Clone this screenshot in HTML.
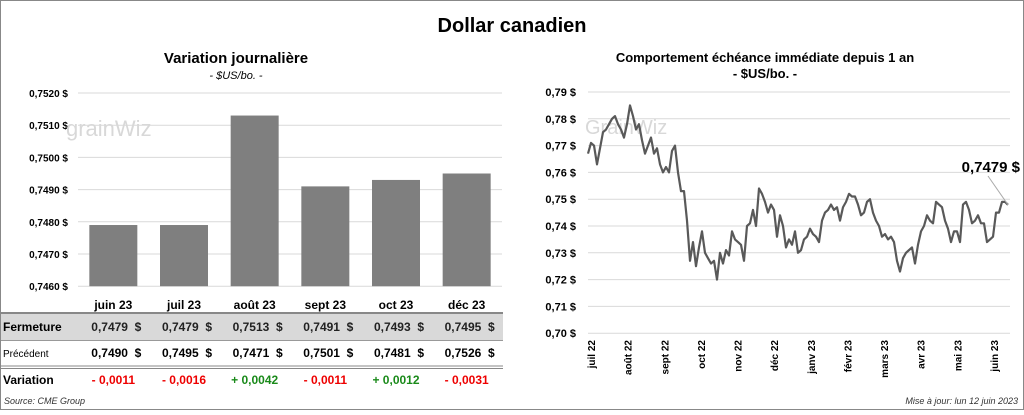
<!DOCTYPE html>
<html><head><meta charset="utf-8"><style>
body{margin:0;width:1024px;height:410px;overflow:hidden;background:#fff;font-family:"Liberation Sans",sans-serif}
svg text{font-family:"Liberation Sans",sans-serif}
</style></head><body>
<svg id="s" width="1024" height="410" xmlns="http://www.w3.org/2000/svg">
<rect x="0.5" y="0.5" width="1023" height="409" fill="#fff" stroke="#888"/>
<text x="512" y="32" text-anchor="middle" font-size="20" font-weight="bold">Dollar canadien</text>
<text x="236" y="63" text-anchor="middle" font-size="15" font-weight="bold">Variation  journalière</text>
<text x="236" y="79" text-anchor="middle" font-size="11" font-style="italic">- $US/bo. -</text>
<text x="765" y="62" text-anchor="middle" font-size="13" font-weight="bold">Comportement échéance immédiate depuis 1 an</text>
<text x="765" y="78" text-anchor="middle" font-size="13" font-weight="bold">- $US/bo. -</text>
<g id="left"></g>
<g id="right"></g>
<g id="tbl"></g>
<text x="4" y="404" font-size="9" font-style="italic" fill="#333">Source: CME Group</text>
<text x="1018" y="404" text-anchor="end" font-size="9" font-style="italic" fill="#333">Mise à jour: lun 12 juin 2023</text>
</svg>
<script>
const months=["juin 23","juil 23","août 23","sept 23","oct 23","déc 23"];
const closes=[0.7479,0.7479,0.7513,0.7491,0.7493,0.7495];
const prevs=[0.7490,0.7495,0.7471,0.7501,0.7481,0.7526];
const variations=[-0.0011,-0.0016,0.0042,-0.0011,0.0012,-0.0031];
const leftTicks=[0.7460,0.7470,0.7480,0.7490,0.7500,0.7510,0.7520];
const lineVals=[0.767,0.771,0.770,0.763,0.769,0.775,0.776,0.778,0.780,0.781,0.778,0.776,0.773,0.778,0.785,0.781,0.776,0.778,0.772,0.767,0.770,0.773,0.767,0.769,0.763,0.760,0.762,0.760,0.768,0.770,0.760,0.753,0.753,0.742,0.727,0.734,0.725,0.732,0.738,0.730,0.728,0.726,0.727,0.720,0.730,0.726,0.731,0.729,0.738,0.735,0.734,0.733,0.727,0.740,0.741,0.746,0.740,0.754,0.752,0.749,0.745,0.748,0.746,0.736,0.744,0.740,0.732,0.735,0.733,0.738,0.730,0.731,0.735,0.736,0.739,0.737,0.736,0.734,0.742,0.745,0.746,0.748,0.746,0.747,0.742,0.747,0.749,0.752,0.751,0.751,0.748,0.744,0.745,0.749,0.750,0.745,0.742,0.740,0.736,0.737,0.735,0.736,0.734,0.727,0.723,0.728,0.730,0.731,0.732,0.726,0.733,0.738,0.740,0.744,0.742,0.741,0.749,0.748,0.747,0.742,0.739,0.734,0.738,0.738,0.734,0.748,0.749,0.746,0.741,0.742,0.744,0.741,0.741,0.734,0.735,0.736,0.745,0.745,0.749,0.749,0.7479];
const rightTicks=[0.70,0.71,0.72,0.73,0.74,0.75,0.76,0.77,0.78,0.79];
const lineMonths=["juil 22","août 22","sept 22","oct 22","nov 22","déc 22","janv 23","févr 23","mars 23","avr 23","mai 23","juin 23"];
const NS="http://www.w3.org/2000/svg";
function mk(p,t,a,txt){const e=document.createElementNS(NS,t);for(const k in a)e.setAttribute(k,a[k]);if(txt!==undefined)e.textContent=txt;p.appendChild(e);return e;}
const fmt=(v,d)=>v.toFixed(d).replace('.',',');
const L=document.getElementById('left');
const ly=v=>93+(0.7520-v)/0.0001*3.22;
const lx0=78,lw=424/6;
leftTicks.forEach(t=>{
 let g=mk(L,'line',{x1:lx0,x2:502,y1:ly(t),y2:ly(t),stroke:'#d9d9d9'});
 
 let tx=mk(L,'text',{x:68,y:ly(t)+4,'text-anchor':'end','font-size':10,'font-weight':'bold'},fmt(t,4)+' $');
 
});
let wm=mk(L,'text',{x:66,y:136,'font-size':22,fill:'#d8d8d8'},'grainWiz');

closes.forEach((v,i)=>{
 const cx=lx0+lw*(i+0.5);
 let r=mk(L,'rect',{x:cx-24,y:ly(v),width:48,height:ly(0.7460)-ly(v),fill:'#7f7f7f'});
 
});
const T=document.getElementById('tbl');
mk(T,'rect',{x:1,y:314,width:502,height:26,fill:'#d9d9d9'});
[[313,'#888',2],[340.5,'#999',1],[366,'#888',1],[368.5,'#888',1]].forEach(([y,c,w])=>mk(T,'line',{x1:1,x2:503,y1:y,y2:y,stroke:c,'stroke-width':w}));
months.forEach((m,i)=>{const cx=lx0+lw*(i+0.5);
 let t=mk(T,'text',{x:cx,y:309,'text-anchor':'middle','font-size':12,'font-weight':'bold'},m);
 
 let a=mk(T,'text',{x:cx+28,y:331,'text-anchor':'end','font-size':12,'font-weight':'bold',fill:'#222'},fmt(closes[i],4)+'  $');
 
 let b=mk(T,'text',{x:cx+28,y:357,'text-anchor':'end','font-size':12,'font-weight':'bold'},fmt(prevs[i],4)+'  $');
 
 const d=variations[i];
 let c=mk(T,'text',{x:cx,y:384,'text-anchor':'middle','font-size':12,'font-weight':'bold',fill:d<0?'#e00':'#1a8a1a'},(d<0?'- ':'+ ')+fmt(Math.abs(d),4));
 
});
document.querySelectorAll('#tbl text').forEach(e=>e.style.whiteSpace='pre');
[['Fermeture',331,12,'bold'],['Précédent',357,10,'normal'],['Variation',384,12,'bold']].forEach(([s,y,f,w])=>{
 let t=mk(T,'text',{x:3,y:y,'font-size':f,'font-weight':w},s);
 });
const R=document.getElementById('right');
const ry=v=>92+(0.79-v)/0.01*26.8;
const rx=i=>588+i*(1008-588)/(lineVals.length-1);
rightTicks.forEach(t=>{
 let g=mk(R,'line',{x1:588,x2:1010,y1:ry(t),y2:ry(t),stroke:'#d9d9d9'});
 
 let tx=mk(R,'text',{x:576,y:ry(t)+4,'text-anchor':'end','font-size':11,'font-weight':'bold'},fmt(t,2)+' $');
 
});
let wm2=mk(R,'text',{x:585,y:134,'font-size':20,fill:'#d8d8d8'},'GrainWiz');

lineMonths.forEach((m,i)=>{const x=591+i*(994-591)/11;
 let t=mk(R,'text',{x:0,y:0,'text-anchor':'end','font-size':10,'font-weight':'bold',transform:`translate(${x+4},340) rotate(-90)`},m);
 });
let p=mk(R,'polyline',{points:lineVals.map((v,i)=>rx(i)+','+ry(v)).join(' '),fill:'none',stroke:'#595959','stroke-width':2.2,'stroke-linejoin':'round'});

const last=lineVals[lineVals.length-1];
mk(R,'line',{x1:988,y1:176,x2:rx(lineVals.length-1),y2:ry(last),stroke:'#aaa'});
let lab=mk(R,'text',{x:1020,y:172,'text-anchor':'end','font-size':15,'font-weight':'bold'},fmt(last,4)+' $');

</script>
</body></html>
